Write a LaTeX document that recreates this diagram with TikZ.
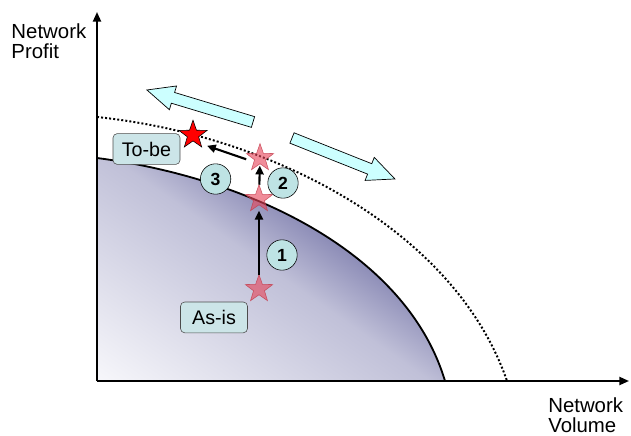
\documentclass[tikz,border=0pt]{standalone}
\usepackage{fontspec}
\setmainfont{Liberation Sans}
\usepackage{tikz}
\usetikzlibrary{shapes.geometric, arrows.meta}
\definecolor{tagfill}{RGB}{204,229,232}
\definecolor{numfill}{RGB}{190,227,228}
\definecolor{pinkstar}{RGB}{230,70,90}
\definecolor{pushcyan}{RGB}{204,255,255}
\definecolor{shadelo}{RGB}{252,252,254}
\definecolor{shademid}{RGB}{192,192,216}
\definecolor{shadehi}{RGB}{136,136,180}
\pgfdeclareverticalshading{frontier}{100bp}{color(0bp)=(shadelo); color(24bp)=(shadelo);
  color(50bp)=(shademid); color(58bp)=(shadehi); color(100bp)=(shadehi)}

\begin{document}
\begin{tikzpicture}[
    tag/.style={draw=black!70, fill=tagfill, rounded corners=3pt, minimum width=1.675cm,
      minimum height=0.77cm, inner sep=0pt, font=\fontsize{14}{16}\selectfont},
    num/.style={circle, draw, fill=numfill, minimum size=0.76cm, inner sep=0pt,
      font=\fontsize{12.5}{14}\selectfont\bfseries},
    pstar/.style={star, star points=5, star point ratio=2.5, minimum size=0.72cm, inner sep=0pt,
      fill=pinkstar, fill opacity=0.62, draw=pinkstar!85!black, draw opacity=0.8},
    rstar/.style={star, star points=5, star point ratio=2.5, minimum size=0.74cm, inner sep=0pt,
      fill=red, draw=black, thin},
    arr/.style={-{Triangle[length=2.2mm, width=2mm]}, line width=1.5pt},
    axis/.style={-{Triangle[length=2.4mm, width=2mm]}, line width=1.4pt},
    pusharrow/.style={draw=black, fill=pushcyan, line width=0.5pt},
    axislabel/.style={align=left, inner sep=0pt, anchor=north west, font=\fontsize{14.5}{14.5}\selectfont}
  ]
  \useasboundingbox (0,0) rectangle (15.775,10.875);
  \def\Ox{2.425} \def\Oy{1.35}
  \def\Al{2.77}  \def\Ah{2.09}

  \begin{scope}
    \clip (\Ox,\Oy) -- (\Ox,6.925) .. controls (6.175,6.4375) and (10.15,4.6) .. (11.125,\Oy) -- cycle;
    \shade[shading=frontier, shading angle=-35] (1.775,-0.8625) rectangle (11.775,9.1375);
  \end{scope}
  \draw[line width=1.3pt] (\Ox,6.925) .. controls (6.175,6.4375) and (10.15,4.6) .. (11.125,\Oy);

  \draw[line width=1.4pt, dash pattern=on 1.4pt off 1.5pt] (\Ox,7.95)
    .. controls (6.925,7.475) and (11.4,5.05) .. (12.675,\Oy);

  \draw[axis] (\Ox,\Oy) -- (\Ox,10.575);
  \draw[axis] (\Ox,\Oy) -- (15.725,\Oy);
  \node[axislabel] (ylab) at (0.28,10.3) {Network\\Profit};
  \node[axislabel] (xlab) at (13.7,0.95) {Network\\Volume};

  \begin{scope}[shift={(6.325,7.825)}, rotate=163.2]
    \draw[pusharrow] (0,-0.14) -- (\Ah,-0.14) -- (\Ah,-0.31) -- (\Al,0) -- (\Ah,0.31) -- (\Ah,0.14) -- (0,0.14) -- cycle;
  \end{scope}
  \begin{scope}[shift={(7.3,7.425)}, rotate=-21.7]
    \draw[pusharrow] (0,-0.14) -- (\Ah,-0.14) -- (\Ah,-0.31) -- (\Al,0) -- (\Ah,0.31) -- (\Ah,0.14) -- (0,0.14) -- cycle;
  \end{scope}

  \node[tag] (tobe) at (3.6625,7.15) {To-be};
  \node[tag] (asis) at (5.35,2.94) {As-is};

  \node[pstar] (asisstar) at (6.475,3.65) {};
  \node[pstar] (curvestar) at (6.475,5.9) {};
  \node[pstar] (upstar) at (6.5,6.925) {};
  \node[rstar] (tobestar) at (4.825,7.5) {};

  \draw[arr, shorten <=-1pt, shorten >=4pt] (asisstar) -- (curvestar);
  \draw[arr, shorten >=1pt] (curvestar) -- (upstar);
  \draw[arr, shorten >=6pt, transform canvas={yshift=-0.15cm}] (upstar) -- (tobestar);

  \node[num] (one) at (7.05,4.5) {1};
  \node[num] (two) at (7.075,6.3) {2};
  \node[num] (three) at (5.39,6.4) {3};
\end{tikzpicture}
\end{document}
